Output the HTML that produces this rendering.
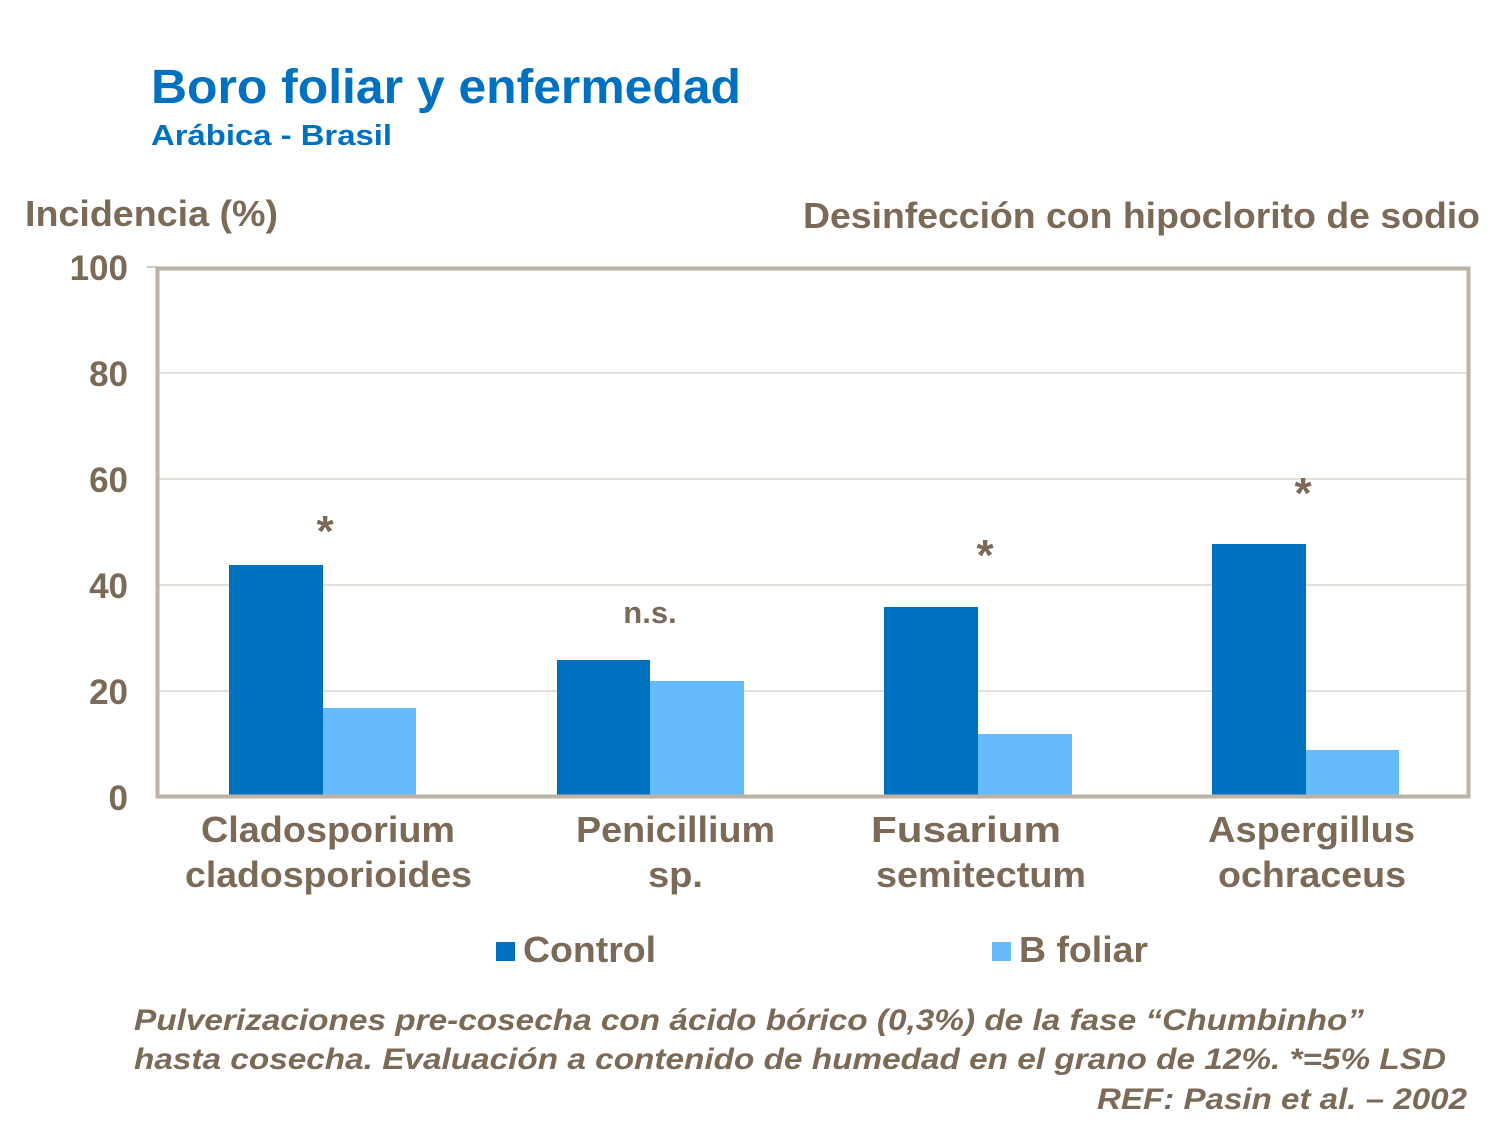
<!DOCTYPE html>
<html><head><meta charset="utf-8"><style>
html,body{margin:0;padding:0;background:#fff;}
svg{display:block;}
</style></head><body>
<svg width="1501" height="1126" viewBox="0 0 1501 1126" xmlns="http://www.w3.org/2000/svg" font-family="Liberation Sans, Arial, sans-serif" font-weight="bold">
<text x="151" y="103" font-size="48" fill="#0070c0" textLength="590" lengthAdjust="spacingAndGlyphs">Boro foliar y enfermedad</text>
<text x="151" y="145" font-size="29" fill="#0070c0" textLength="241" lengthAdjust="spacingAndGlyphs">Arábica  - Brasil</text>
<text x="25" y="226" font-size="36" fill="#7a6a57" textLength="253" lengthAdjust="spacingAndGlyphs">Incidencia (%)</text>
<text x="803" y="228" font-size="36" fill="#7a6a57" textLength="677" lengthAdjust="spacingAndGlyphs">Desinfección con hipoclorito de sodio</text>
<g stroke="#c8c0b6" stroke-width="1">
<line x1="158" y1="373" x2="1468" y2="373"/>
<line x1="158" y1="479" x2="1468" y2="479"/>
<line x1="158" y1="585" x2="1468" y2="585"/>
<line x1="158" y1="691" x2="1468" y2="691"/>
</g>
<g fill="#0070c0">
<rect x="229" y="565" width="94" height="232"/>
<rect x="557" y="660" width="93" height="137"/>
<rect x="884" y="607" width="94" height="190"/>
<rect x="1212" y="544" width="94" height="253"/>
</g>
<g fill="#66bbff">
<rect x="323" y="708" width="93" height="89"/>
<rect x="650" y="681" width="94" height="116"/>
<rect x="978" y="734" width="94" height="63"/>
<rect x="1306" y="750" width="93" height="47"/>
</g>
<rect x="157.5" y="268.5" width="1311" height="528" fill="none" stroke="#bcb2a6" stroke-width="4"/>
<line x1="147" y1="267" x2="158" y2="267" stroke="#999" stroke-width="1"/>
<g font-size="35" fill="#7a6a57" text-anchor="end">
<text x="128" y="280">100</text>
<text x="128" y="386">80</text>
<text x="128" y="492">60</text>
<text x="128" y="598">40</text>
<text x="128" y="704">20</text>
<text x="128" y="810">0</text>
</g>
<g font-size="44" fill="#7a6a57" text-anchor="middle">
<text x="325" y="546">*</text>
<text x="985" y="570">*</text>
<text x="1303" y="508">*</text>
</g>
<text x="650" y="623" font-size="31" fill="#7a6a57" text-anchor="middle">n.s.</text>
<g font-size="36" fill="#7a6a57">
<text x="201" y="842" textLength="254" lengthAdjust="spacingAndGlyphs">Cladosporium</text>
<text x="185" y="887" textLength="287" lengthAdjust="spacingAndGlyphs">cladosporioides</text>
<text x="576" y="842" textLength="199" lengthAdjust="spacingAndGlyphs">Penicillium</text>
<text x="648" y="887" textLength="55" lengthAdjust="spacingAndGlyphs">sp.</text>
<text x="871" y="842" textLength="190" lengthAdjust="spacingAndGlyphs">Fusarium</text>
<text x="876" y="887" textLength="210" lengthAdjust="spacingAndGlyphs">semitectum</text>
<text x="1208" y="842" textLength="207" lengthAdjust="spacingAndGlyphs">Aspergillus</text>
<text x="1218" y="887" textLength="188" lengthAdjust="spacingAndGlyphs">ochraceus</text>
</g>
<rect x="496" y="942" width="19" height="19" fill="#0070c0"/>
<text x="523" y="962" font-size="36" fill="#7a6a57" textLength="133" lengthAdjust="spacingAndGlyphs">Control</text>
<rect x="992" y="942" width="19" height="19" fill="#66bbff"/>
<text x="1019" y="962" font-size="36" fill="#7a6a57" textLength="129" lengthAdjust="spacingAndGlyphs">B foliar</text>
<g font-size="30" font-style="italic" fill="#7a6a57">
<text x="134" y="1030" textLength="1230" lengthAdjust="spacingAndGlyphs">Pulverizaciones pre-cosecha con ácido bórico (0,3%) de la fase “Chumbinho”</text>
<text x="134" y="1069" textLength="1312" lengthAdjust="spacingAndGlyphs">hasta cosecha. Evaluación a contenido de humedad en el grano de 12%. *=5% LSD</text>
<text x="1097" y="1109" textLength="370" lengthAdjust="spacingAndGlyphs">REF: Pasin et al. – 2002</text>
</g>
</svg>
</body></html>
